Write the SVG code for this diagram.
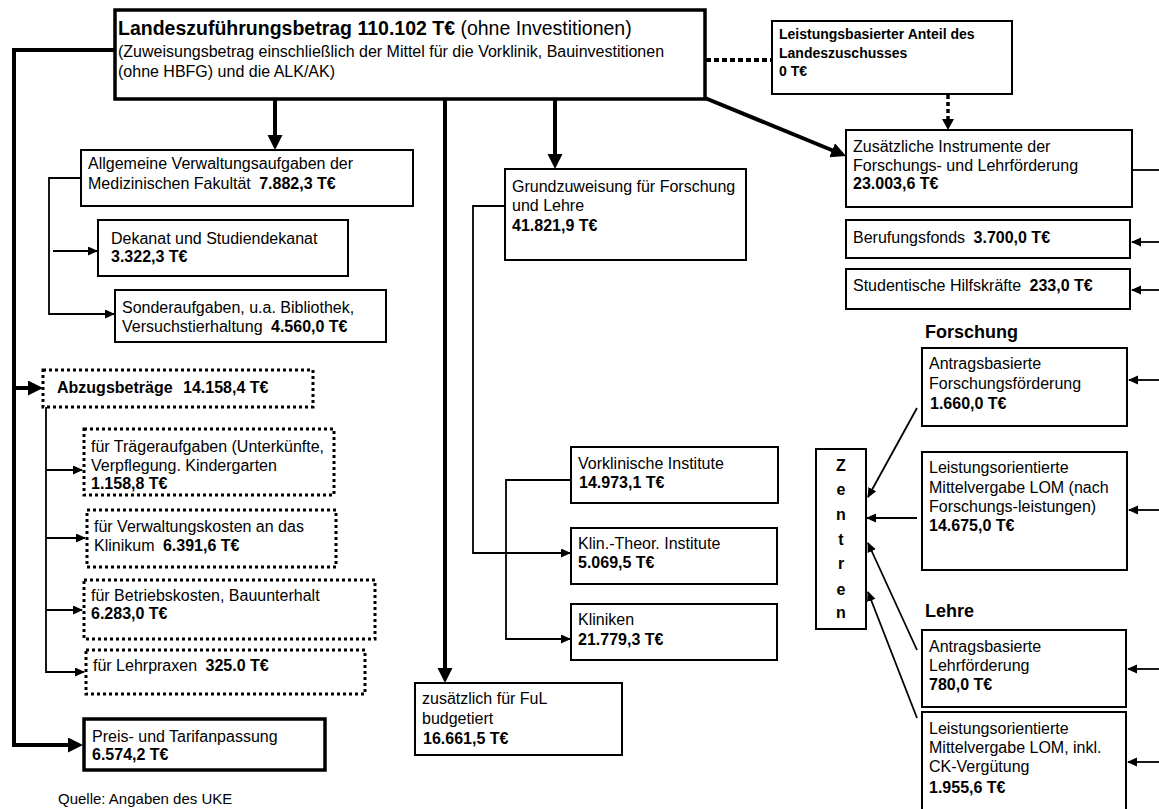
<svg xmlns="http://www.w3.org/2000/svg" width="1159" height="809" viewBox="0 0 1159 809">
<style>
.b{fill:#fff;stroke:#000;stroke-width:2}
.bt{fill:#fff;stroke:#000;stroke-width:3.5}
.bd{fill:#fff;stroke:#000;stroke-width:3;stroke-dasharray:3 3}
text{font-family:"Liberation Sans",Arial,sans-serif;font-size:16px;fill:#000}
.bo{font-weight:bold}
.s14{font-size:14px}
.thick{stroke:#000;stroke-width:4;fill:none}
.thin{stroke:#000;stroke-width:1.8;fill:none}
.dot{stroke:#000;stroke-width:4;fill:none;stroke-dasharray:5 3}
.dotv{stroke:#000;stroke-width:3.5;fill:none;stroke-dasharray:4 3}
</style>
<defs>
<marker id="ab" markerUnits="userSpaceOnUse" markerWidth="16" markerHeight="16" refX="2" refY="7.5" orient="auto"><path d="M0,0 L15,7.5 L0,15 z" fill="#000"/></marker>
<marker id="as" markerUnits="userSpaceOnUse" markerWidth="12" markerHeight="12" refX="9" refY="4.5" orient="auto"><path d="M0,0 L10,4.5 L0,9 z" fill="#000"/></marker>
</defs>
<rect width="1159" height="809" fill="#fff"/>

<g id="connectors">
<path class="thick" d="M115,50 H14 V745 H70" marker-end="url(#ab)"/>
<path class="thick" d="M14,388 H30" marker-end="url(#ab)"/>
<path class="thick" d="M275,99 V137" marker-end="url(#ab)"/>
<path class="thick" d="M445,99 V670" marker-end="url(#ab)"/>
<path class="thick" d="M555,99 V156" marker-end="url(#ab)"/>
<path class="thick" d="M705,98 L834,151" marker-end="url(#ab)"/>
<path class="dot" d="M706,60 H772"/>
<path class="dotv" d="M948,95 V121"/>
<path d="M942,119 L954,119 L948,130 z" fill="#000"/>
<path class="thin" d="M81,178 H49 V314 H114" marker-end="url(#as)"/>
<path class="thin" d="M53,251 H97" marker-end="url(#as)"/>
<path class="thin" d="M46,407 V672 H84" marker-end="url(#as)"/>
<path class="thin" d="M46,470 H82" marker-end="url(#as)"/>
<path class="thin" d="M46,538 H85" marker-end="url(#as)"/>
<path class="thin" d="M46,610 H82" marker-end="url(#as)"/>
<path class="thin" d="M505,206 H473 V553 H570" marker-end="url(#as)"/>
<path class="thin" d="M570,480 H506 V639 H570" marker-start="url(#as)" marker-end="url(#as)"/>
<path class="thin" d="M1132,170 H1159"/>
<path class="thin" d="M1159,242 H1132" marker-end="url(#as)"/>
<path class="thin" d="M1159,290 H1132" marker-end="url(#as)"/>
<path class="thin" d="M1159,380 H1129" marker-end="url(#as)"/>
<path class="thin" d="M1159,510 H1129" marker-end="url(#as)"/>
<path class="thin" d="M1159,669 H1128" marker-end="url(#as)"/>
<path class="thin" d="M1159,762 H1128" marker-end="url(#as)"/>
<path class="thin" d="M917,408 L868,497" marker-end="url(#as)"/>
<path class="thin" d="M917,518 H867" marker-end="url(#as)"/>
<path class="thin" d="M917,650 L868,543" marker-end="url(#as)"/>
<path class="thin" d="M917,718 L868,592" marker-end="url(#as)"/>
</g>

<g id="main">
<rect class="bt" x="115" y="10" width="590" height="89"/>
<text x="118" y="35" style="font-size:19.5px"><tspan class="bo">Landeszuführungsbetrag 110.102 T€</tspan> (ohne Investitionen)</text>
<text x="118" y="57">(Zuweisungsbetrag einschließlich der Mittel für die Vorklinik, Bauinvestitionen</text>
<text x="118" y="77">(ohne HBFG) und die ALK/AK)</text>
</g>

<g id="leistungsbasiert">
<rect class="b" x="772" y="21" width="240" height="73"/>
<text class="bo s14" x="779" y="39">Leistungsbasierter Anteil des</text>
<text class="bo s14" x="779" y="58">Landeszuschusses</text>
<text class="bo s14" x="779" y="76">0 T€</text>
</g>

<g id="allgemein">
<rect class="b" x="81" y="150" width="332" height="56"/>
<text x="88" y="169">Allgemeine Verwaltungsaufgaben der</text>
<text x="88" y="189">Medizinischen Fakultät <tspan class="bo" dx="4">7.882,3 T€</tspan></text>
</g>

<g id="dekanat">
<rect class="b" x="98" y="220" width="250" height="56"/>
<text x="111" y="244">Dekanat und Studiendekanat</text>
<text class="bo" x="111" y="262">3.322,3 T€</text>
</g>

<g id="sonder">
<rect class="b" x="115" y="290" width="271" height="52"/>
<text x="122" y="313">Sonderaufgaben, u.a. Bibliothek,</text>
<text x="122" y="332">Versuchstierhaltung <tspan class="bo" dx="4">4.560,0 T€</tspan></text>
</g>

<g id="abzug">
<rect class="bd" x="43" y="370" width="270" height="37"/>
<text class="bo" x="57" y="393">Abzugsbeträge <tspan dx="6">14.158,4 T€</tspan></text>
</g>

<g id="traeger">
<rect class="bd" x="84" y="429" width="250" height="66"/>
<text x="91" y="452">für Trägeraufgaben (Unterkünfte,</text>
<text x="91" y="471">Verpflegung. Kindergarten</text>
<text class="bo" x="91" y="489">1.158,8 T€</text>
</g>

<g id="verwaltung">
<rect class="bd" x="87" y="510" width="249" height="57"/>
<text x="94" y="532">für Verwaltungskosten an das</text>
<text x="94" y="551">Klinikum <tspan class="bo" dx="4">6.391,6 T€</tspan></text>
</g>

<g id="betrieb">
<rect class="bd" x="84" y="580" width="291" height="59"/>
<text x="91" y="601">für Betriebskosten, Bauunterhalt</text>
<text class="bo" x="91" y="619">6.283,0 T€</text>
</g>

<g id="lehrpraxen">
<rect class="bd" x="86" y="650" width="279" height="44"/>
<text x="93" y="671">für Lehrpraxen <tspan class="bo" dx="4">325.0 T€</tspan></text>
</g>

<g id="preis">
<rect class="bt" x="84" y="719" width="241" height="51"/>
<text x="92" y="742">Preis- und Tarifanpassung</text>
<text class="bo" x="92" y="760">6.574,2 T€</text>
</g>

<g id="quelle">
<text x="58" y="804" style="font-size:15px">Quelle: Angaben des UKE</text>
</g>

<g id="grundzuweisung">
<rect class="b" x="505" y="169" width="241" height="91"/>
<text x="512" y="192">Grundzuweisung für Forschung</text>
<text x="512" y="211">und Lehre</text>
<text class="bo" x="512" y="231">41.821,9 T€</text>
</g>

<g id="vorklinik">
<rect class="b" x="571" y="447" width="207" height="56"/>
<text x="578" y="469">Vorklinische Institute</text>
<text class="bo" x="579" y="488">14.973,1 T€</text>
</g>

<g id="klintheor">
<rect class="b" x="571" y="528" width="206" height="56"/>
<text x="578" y="549">Klin.-Theor. Institute</text>
<text class="bo" x="578" y="568">5.069,5 T€</text>
</g>

<g id="kliniken">
<rect class="b" x="571" y="604" width="206" height="56"/>
<text x="578" y="625">Kliniken</text>
<text class="bo" x="578" y="645">21.779,3 T€</text>
</g>

<g id="zusaetzlichful">
<rect class="b" x="415" y="683" width="207" height="72"/>
<text x="422" y="704">zusätzlich für FuL</text>
<text x="422" y="724">budgetiert</text>
<text class="bo" x="423" y="744">16.661,5 T€</text>
</g>

<g id="instrumente">
<rect class="b" x="846" y="130" width="286" height="77"/>
<text x="853" y="152">Zusätzliche Instrumente der</text>
<text x="853" y="171">Forschungs- und Lehrförderung</text>
<text class="bo" x="853" y="189">23.003,6 T€</text>
</g>

<g id="berufung">
<rect class="b" x="846" y="220" width="284" height="38"/>
<text x="853" y="243">Berufungsfonds <tspan class="bo" dx="4">3.700,0 T€</tspan></text>
</g>

<g id="hilfskraefte">
<rect class="b" x="846" y="269" width="284" height="40"/>
<text x="853" y="291">Studentische Hilfskräfte <tspan class="bo" dx="4">233,0 T€</tspan></text>
</g>

<g id="forschung-label">
<text class="bo" x="925" y="338" style="font-size:18px">Forschung</text>
</g>

<g id="antrag-forschung">
<rect class="b" x="922" y="348" width="205" height="78"/>
<text x="929" y="369">Antragsbasierte</text>
<text x="929" y="389">Forschungsförderung</text>
<text class="bo" x="930" y="409">1.660,0 T€</text>
</g>

<g id="lom-forschung">
<rect class="b" x="922" y="452" width="205" height="118"/>
<text x="929" y="473">Leistungsorientierte</text>
<text x="929" y="493">Mittelvergabe LOM (nach</text>
<text x="929" y="512">Forschungs-leistungen)</text>
<text class="bo" x="929" y="531">14.675,0 T€</text>
</g>

<g id="zentren">
<rect class="b" x="816" y="449" width="50" height="180"/>
<g text-anchor="middle">
<text class="bo" x="841" y="471">Z</text>
<text class="bo" x="841" y="495">e</text>
<text class="bo" x="841" y="520">n</text>
<text class="bo" x="841" y="545">t</text>
<text class="bo" x="841" y="569">r</text>
<text class="bo" x="841" y="595">e</text>
<text class="bo" x="841" y="618">n</text>
</g>
</g>

<g id="lehre-label">
<text class="bo" x="925" y="617" style="font-size:18px">Lehre</text>
</g>

<g id="antrag-lehre">
<rect class="b" x="922" y="630" width="204" height="77"/>
<text x="929" y="652">Antragsbasierte</text>
<text x="929" y="671">Lehrförderung</text>
<text class="bo" x="929" y="690">780,0 T€</text>
</g>

<g id="lom-lehre">
<rect class="b" x="922" y="712" width="204" height="110"/>
<text x="929" y="734">Leistungsorientierte</text>
<text x="929" y="753">Mittelvergabe LOM, inkl.</text>
<text x="929" y="772">CK-Vergütung</text>
<text class="bo" x="929" y="793">1.955,6 T€</text>
</g>
</svg>
